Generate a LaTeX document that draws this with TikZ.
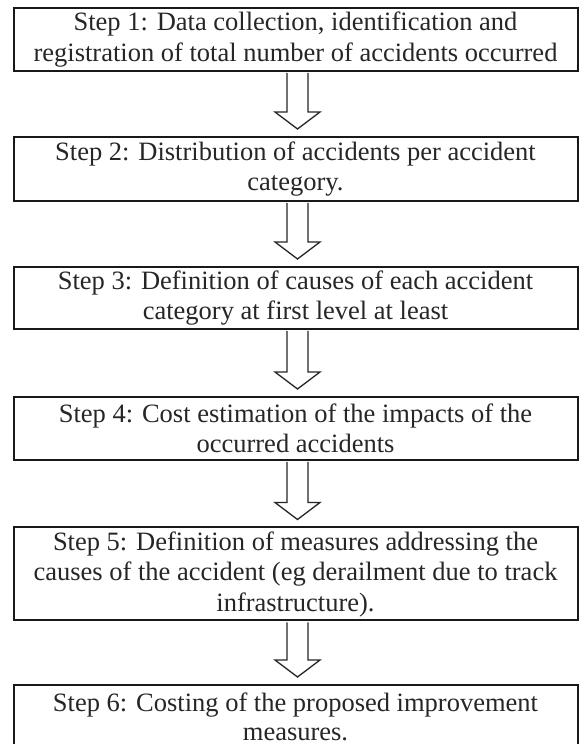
\documentclass[tikz,border=0pt]{standalone}
\usepackage{fontspec}
\setmainfont{Liberation Serif}
\usetikzlibrary{calc}
\begin{document}
\begin{tikzpicture}[x=1pt,y=1pt,
  stepbox/.style={draw=black!90, line width=2pt, minimum width=564pt, inner sep=0pt,
    align=center, font=\fontsize{26.5}{30.5}\selectfont, text=black!85},
  hollow/.style={draw=black!85, line width=1.3pt, fill=white, line join=miter}]
\useasboundingbox (0,0) rectangle (580,744);
\clip (0,0) rectangle (580,744);
\fill[white] (0,0) rectangle (580,744);
\def\cx{295.5}
\node[stepbox, minimum height=63pt] (b1) at (\cx,{744-39.5}) {Step 1: Data collection, identification and\\registration of total number of accidents occurred};
\node[stepbox, minimum height=64pt] (b2) at (\cx,{744-169}) {Step 2: Distribution of accidents per accident\\category.};
\node[stepbox, minimum height=62pt] (b3) at (\cx,{744-298}) {Step 3: Definition of causes of each accident\\category at first level at least};
\node[stepbox, minimum height=63pt] (b4) at (\cx,{744-428.5}) {Step 4: Cost estimation of the impacts of the\\occurred accidents};
\node[stepbox, minimum height=93pt] (b5) at (\cx,{744-574}) {Step 5: Definition of measures addressing the\\causes of the accident (eg derailment due to track\\infrastructure).};
\node[stepbox, minimum height=64pt, font=\fontsize{26.5}{29}\selectfont] (b6) at (\cx,{744-717}) {Step 6: Costing of the proposed improvement\\measures.};
\foreach \a/\b in {b1/b2,b2/b3,b3/b4,b4/b5,b5/b6}{
  \coordinate (s) at ($(\a.south)+(2,0)$);
  \coordinate (t) at ($(\b.north)+(2,7)$);
  \draw[hollow] ($(s)+(-10.5,-1)$) -- ($(t)+(-10.5,17)$) -- ($(t)+(-22.5,17)$) -- (t)
     -- ($(t)+(22.5,17)$) -- ($(t)+(10.5,17)$) -- ($(s)+(10.5,-1)$);
}
\end{tikzpicture}
\end{document}
